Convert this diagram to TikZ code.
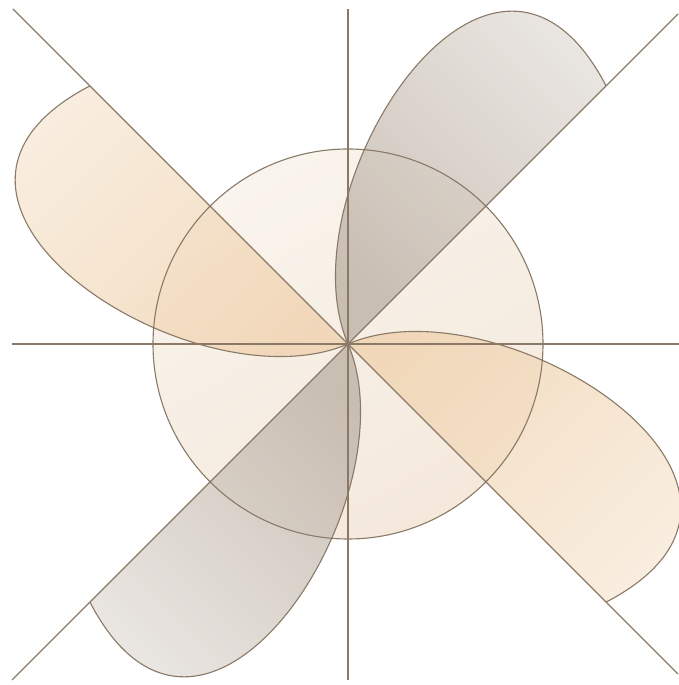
\documentclass[tikz,border=0pt]{standalone}
\usetikzlibrary{calc}
\definecolor{linec}{HTML}{8A7966}
\definecolor{tanin}{HTML}{F0D3B0}
\definecolor{tanout}{HTML}{F8EEE0}
\definecolor{grayin}{HTML}{BFB3A6}
\definecolor{grayout}{HTML}{ECE9E5}
\definecolor{circin}{HTML}{F4E8DA}
\definecolor{circout}{HTML}{F9F3EC}
\tikzset{
  axisline/.style={draw=linec, line width=1.4pt},
  outline/.style={draw=linec, line width=1.1pt},
  tanlobe/.style={bottom color=tanin, top color=tanout, shading angle=#1, fill opacity=0.82},
  graylobe/.style={bottom color=grayin, top color=grayout, shading angle=#1, fill opacity=0.82},
  disc/.style={bottom color=circin, top color=circout, shading angle=30, fill opacity=0.95},
}
\newcommand{\lobepath}{(0,0) -- (365,0) .. controls (440,238) and (62,155) .. (0,0) -- cycle}
\begin{document}
\begin{tikzpicture}[x=1pt,y=1pt]
\useasboundingbox (0,0) rectangle (679,685);
\coordinate (O) at (348,341);
\coordinate (vt) at (348,676);
\coordinate (vb) at (348,5);
\coordinate (hl) at (12,341);
\coordinate (hr) at (679,341);
\coordinate (d1a) at (13,676);
\coordinate (d1b) at (678,11);
\coordinate (d2a) at (678,671);
\coordinate (d2b) at (12,5);
% disc
\shade[disc] (O) circle (195);
% lobes
\begin{scope}[shift={(O)},rotate=135]
  \shade[tanlobe=45] \lobepath;
\end{scope}
\begin{scope}[shift={(O)},rotate=-45]
  \shade[tanlobe=-135] \lobepath;
\end{scope}
\begin{scope}[shift={(O)},rotate=45]
  \shade[graylobe=-45] \lobepath;
\end{scope}
\begin{scope}[shift={(O)},rotate=225]
  \shade[graylobe=135] \lobepath;
\end{scope}
% outlines
\draw[outline] (O) circle (195);
\foreach \a in {135,-45,45,225}{
  \begin{scope}[shift={(O)},rotate=\a]
    \draw[outline] (365,0) .. controls (440,238) and (62,155) .. (0,0);
  \end{scope}
}
% axes
\draw[axisline] (vt) -- (vb);
\draw[axisline] (hl) -- (hr);
\draw[axisline] (d1a) -- (d1b);
\draw[axisline] (d2a) -- (d2b);
\end{tikzpicture}
\end{document}
